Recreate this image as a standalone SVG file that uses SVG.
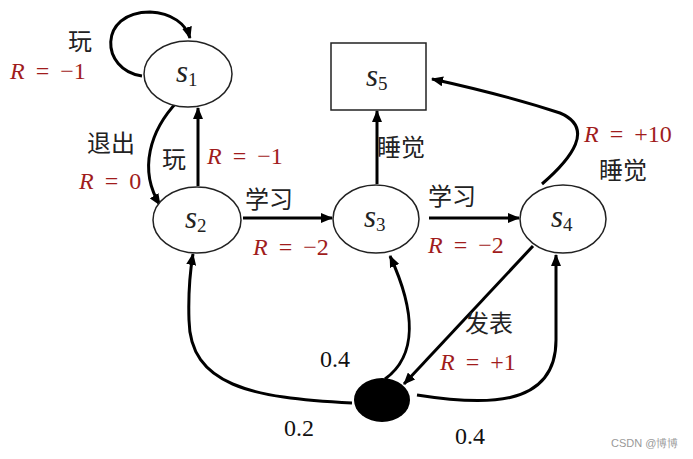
<svg xmlns="http://www.w3.org/2000/svg" width="693" height="459" viewBox="0 0 693 459">
<defs>
<marker id="ah" viewBox="0 0 12 10" refX="11" refY="5" markerWidth="12" markerHeight="10" markerUnits="userSpaceOnUse" orient="auto">
<path d="M0,0 L12,5 L0,10 Z" fill="#000"/>
</marker>
<style>
.node{fill:#fff;stroke:#222;stroke-width:1.5}
.st{font-family:"Liberation Serif",serif;font-style:italic;font-size:31px;fill:#222}
.sub{font-style:normal;font-size:19px}
.cn{font-family:"Noto Sans CJK SC","Noto Sans",sans-serif;font-size:24px;fill:#222}
.r{font-family:"Liberation Serif",serif;font-size:24px;fill:#a01c1c;word-spacing:5px}
.r .i{font-style:italic}
.num{font-family:"Liberation Serif",serif;font-size:24px;fill:#111}
.e{fill:none;stroke:#000;stroke-width:3;marker-end:url(#ah)}
.wm{font-family:"Liberation Sans",sans-serif;font-size:11px;fill:#999}
</style>
</defs>
<rect width="693" height="459" fill="#fff"/>
<g id="connectors">
<path class="e" d="M142 76 C100 70 98 12 150 12 C172 13 186 24 190 38"/>
<path class="e" d="M178 101 C150 130 138 170 160 205"/>
<path class="e" d="M198 186 L198 108"/>
<path class="e" d="M243 218 L332 218"/>
<path class="e" d="M429 218 L519 218"/>
<path class="e" d="M377 184 L377 111"/>
<path class="e" d="M542 184 C572 158 595 128 560 113 Q505 95 432 79"/>
<path class="e" d="M352 403 C250 398 190 385 189 320 C188 290 190 272 193 254"/>
<path class="e" d="M385 379 C418 355 415 310 390 256"/>
<path class="e" d="M533 246 L404 384"/>
<path class="e" d="M417 395 C480 405 556 410 556 340 L556 255"/>
</g>
<g id="s1"><ellipse class="node" cx="188" cy="74" rx="44" ry="33"/><text class="st" x="176" y="82">s<tspan class="sub" dy="4">1</tspan></text></g>
<g id="s2"><ellipse class="node" cx="197" cy="220" rx="44" ry="33"/><text class="st" x="185" y="228">s<tspan class="sub" dy="4">2</tspan></text></g>
<g id="s3"><ellipse class="node" cx="376" cy="219" rx="43" ry="34"/><text class="st" x="364" y="227">s<tspan class="sub" dy="4">3</tspan></text></g>
<g id="s4"><ellipse class="node" cx="563" cy="219" rx="43" ry="34"/><text class="st" x="551" y="227">s<tspan class="sub" dy="4">4</tspan></text></g>
<g id="s5"><rect class="node" x="331" y="43" width="95" height="67"/><text class="st" x="366" y="86">s<tspan class="sub" dy="4">5</tspan></text></g>
<g id="chance"><ellipse cx="382" cy="400" rx="28" ry="22" fill="#000"/></g>
<g id="labels">
<text class="cn" x="68" y="50">玩</text>
<text class="r" x="10" y="79"><tspan class="i">R</tspan> = −1</text>
<text class="cn" x="87" y="152">退出</text>
<text class="r" x="79" y="189"><tspan class="i">R</tspan> = 0</text>
<text class="cn" x="162" y="168">玩</text>
<text class="r" x="207" y="164"><tspan class="i">R</tspan> = −1</text>
<text class="cn" x="245" y="208">学习</text>
<text class="r" x="253" y="255"><tspan class="i">R</tspan> = −2</text>
<text class="cn" x="428" y="205">学习</text>
<text class="r" x="428" y="253"><tspan class="i">R</tspan> = −2</text>
<text class="cn" x="377" y="156">睡觉</text>
<text class="r" x="584" y="142"><tspan class="i">R</tspan> = +10</text>
<text class="cn" x="599" y="179">睡觉</text>
<text class="cn" x="465" y="332">发表</text>
<text class="r" x="440" y="370"><tspan class="i">R</tspan> = +1</text>
<text class="num" x="320" y="367">0.4</text>
<text class="num" x="284" y="436">0.2</text>
<text class="num" x="455" y="444">0.4</text>
<text class="wm" x="611" y="447">CSDN @博博</text>
</g>
</svg>
